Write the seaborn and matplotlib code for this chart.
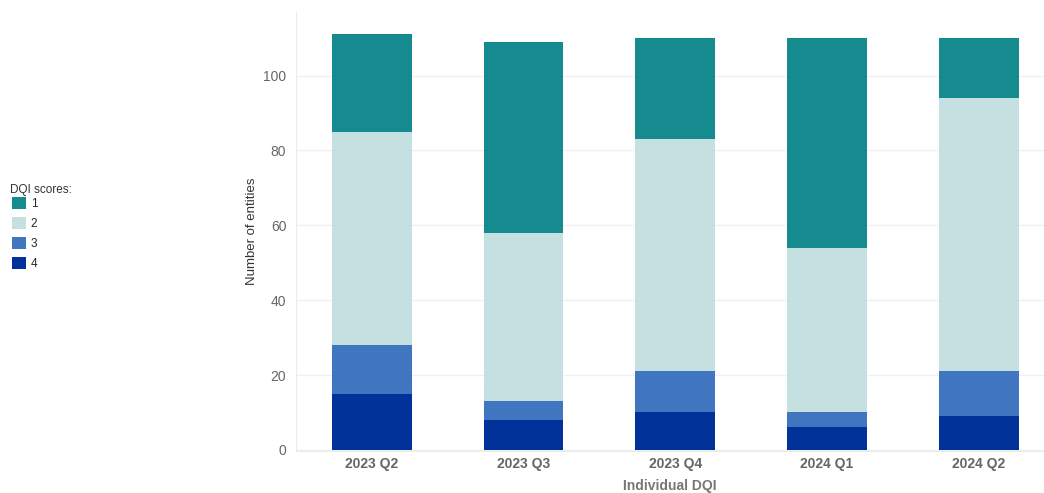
import numpy as np
import pandas as pd
import seaborn as sns
import matplotlib.pyplot as plt
from matplotlib.patches import Patch

# values
quarters = ["2023 Q2", "2023 Q3", "2023 Q4", "2024 Q1", "2024 Q2"]
score_1 = [26, 51, 27, 56, 16]
score_2 = [57, 45, 62, 44, 73]
score_3 = [13, 5, 11, 4, 12]
score_4 = [15, 8, 10, 6, 9]

colors = {"1": "#158b8f", "2": "#c5e0e0", "3": "#4075c0", "4": "#003299"}

df = pd.DataFrame({"quarter": quarters, "1": score_1, "2": score_2,
                   "3": score_3, "4": score_4})

sns.set_style("white")
plt.rcParams['font.family'] = ['Liberation Sans', 'DejaVu Sans']

fig = plt.figure(figsize=(10.44, 4.93), dpi=100)
ax = fig.add_axes([0.2835, 0.0852, 0.7165, 0.8905])

# stacked bars: draw cumulative totals from top segment down
order = ["1", "2", "3", "4"]
for i, s in enumerate(order):
    cum = df[order[i:]].sum(axis=1)
    sns.barplot(x=df["quarter"], y=cum, color=colors[s], width=0.526,
                saturation=1, linewidth=0, edgecolor="none", ax=ax, zorder=2)

ax.set_yticks([0, 20, 40, 60, 80, 100])
ax.set_xticks(np.arange(-0.5, 4, 1), minor=True)
ax.set_xlim(-0.5, 4.43)
ax.set_ylim(-0.3, 117)
ax.grid(axis="y", color="#f0f0f0", linewidth=1, zorder=0)
ax.set_axisbelow(True)
for side in ["top", "right"]:
    ax.spines[side].set_visible(False)
ax.spines["left"].set_color("#ebebeb")
ax.spines["bottom"].set_color("#ebebeb")

ax.tick_params(axis="y", length=0, labelsize=10, labelcolor="#666666", pad=7)
ax.tick_params(axis="x", which="major", length=0, labelsize=10,
               labelcolor="#666666", pad=4)
ax.tick_params(axis="x", which="minor", length=5, color="#ebebeb")
for lab in ax.get_xticklabels():
    lab.set_fontweight("bold")

ax.set_ylabel("Number of entities", fontsize=9.5, color="#333333", labelpad=4)
ax.set_xlabel("Individual DQI", fontsize=10, color="#777777",
              fontweight="bold", labelpad=6)

# legend at the far left, title as separate text
fig.text(10 / 1044, 1 - 190 / 493, "DQI scores:", fontsize=8.5,
         color="#333333", va="center", ha="left")
handles = [Patch(facecolor=colors[s], edgecolor="none", label=s) for s in order]
fig.legend(handles=handles, loc="upper left",
           bbox_to_anchor=(12 / 1044, 1 - 197 / 493), frameon=False,
           fontsize=8.5, handlelength=1.15, handleheight=1.15,
           handletextpad=0.45, labelspacing=0.6, borderpad=0,
           borderaxespad=0)

fig.savefig("out.png", dpi=100)
